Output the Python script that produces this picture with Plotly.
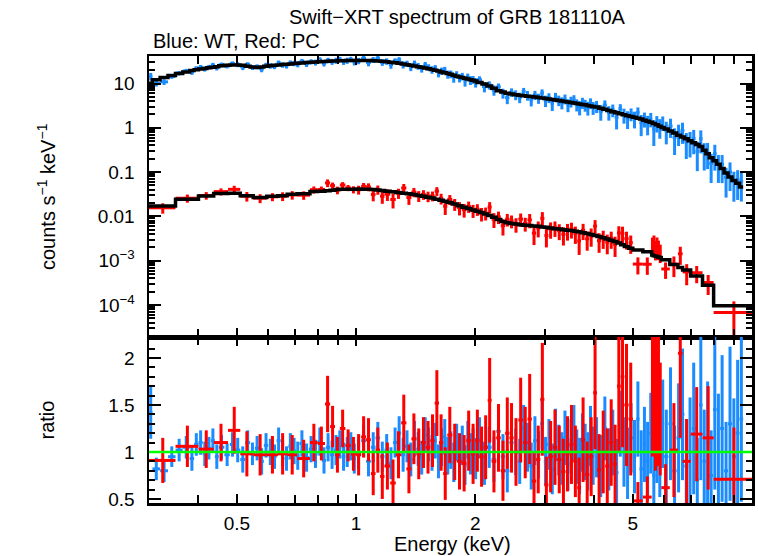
import numpy as np
import plotly.graph_objects as go

# ---------------- data ----------------
# Blue: WT mode.  bin edges (keV), model (counts/s/keV), data/model ratio, ratio error
wt_edges = [0.300, 0.306, 0.320, 0.335, 0.350, 0.365, 0.380, 0.390, 0.400, 0.410, 0.420, 0.430, 0.440,
            0.450, 0.465, 0.480, 0.495, 0.510, 0.525, 0.540, 0.555, 0.570, 0.585, 0.600, 0.615, 0.630,
            0.645, 0.660, 0.675, 0.690, 0.705, 0.720, 0.740, 0.760, 0.780, 0.800, 0.820, 0.840, 0.860,
            0.880, 0.900, 0.920, 0.940, 0.960, 0.980,
            1.00, 1.03, 1.06, 1.09, 1.12, 1.15, 1.18, 1.21, 1.24, 1.27, 1.30, 1.33, 1.36, 1.39, 1.42,
            1.45, 1.48, 1.51, 1.54, 1.57, 1.60, 1.63, 1.66, 1.69, 1.72, 1.75, 1.78, 1.81, 1.84, 1.87,
            1.90, 1.93, 1.96, 1.99,
            2.02, 2.08, 2.14, 2.20, 2.26, 2.32, 2.38, 2.44, 2.50, 2.56, 2.62, 2.68, 2.74, 2.80, 2.86,
            2.92, 2.98, 3.04, 3.10, 3.16, 3.22, 3.28, 3.34, 3.40, 3.46, 3.52, 3.58, 3.64, 3.70, 3.76,
            3.82, 3.88, 3.94,
            4.00, 4.10, 4.20, 4.30, 4.40, 4.50, 4.60, 4.70, 4.80, 4.90, 5.00, 5.10, 5.20, 5.30, 5.40,
            5.50, 5.60, 5.70, 5.80, 5.90,
            6.00, 6.15, 6.30, 6.45, 6.60, 6.75, 6.90, 7.05, 7.20, 7.35, 7.50, 7.65, 7.80, 7.97, 8.14,
            8.31, 8.50, 8.70, 8.90, 9.10, 9.30, 9.50]
wt_model = [10.2, 12.2, 13.6, 15.2, 16.8, 18.3, 19.6, 20.4, 21.2, 21.9, 22.7, 23.4, 24.0,
            25.2, 25.7, 26.1, 26.2, 25.7, 24.6, 23.5, 23.1, 23.6, 24.4, 25.1, 25.7, 26.2, 26.7, 27.2,
            27.7, 28.2, 28.6, 29.2, 29.8, 30.2, 30.6, 31.0, 31.4, 31.8, 32.1, 32.4, 32.6, 32.8, 33.0,
            33.1, 33.2,
            33.2, 33.1, 33.0, 32.8, 32.3, 31.7, 31.1, 30.3, 29.4, 28.5, 27.6, 26.6, 25.7, 24.8, 24.0,
            23.2, 22.4, 21.6, 20.8, 19.9, 19.1, 18.3, 17.6, 16.9, 16.1, 15.3, 14.6, 14.1, 13.6, 13.1,
            12.6, 12.2, 11.8, 11.4,
            10.6, 9.7, 8.8, 7.8, 6.9, 6.4, 6.0, 5.8, 5.6, 5.45, 5.3, 5.18, 5.06, 4.94, 4.82, 4.7,
            4.58, 4.46, 4.34, 4.22, 4.12, 4.02, 3.92, 3.82, 3.72, 3.63, 3.54, 3.46, 3.38, 3.30, 3.20,
            3.10, 3.01,
            2.95, 2.78, 2.61, 2.46, 2.31, 2.19, 2.07, 1.97, 1.88, 1.80, 1.73, 1.65, 1.58, 1.49, 1.41,
            1.33, 1.25, 1.17, 1.09, 1.02,
            0.94, 0.845, 0.76, 0.68, 0.62, 0.565, 0.51, 0.46, 0.42, 0.38, 0.31, 0.26, 0.21, 0.18,
            0.15, 0.12, 0.095, 0.078, 0.065, 0.056, 0.046]
wt_ratio = [1.42, 0.82, 0.80, 0.95, 1.02, 1.05, 0.93, 1.08, 1.10, 0.98, 1.04, 1.12, 0.95,
            1.05, 0.97, 1.08, 1.02, 0.92, 1.10, 0.98, 1.04, 0.90, 1.07, 1.00, 0.95, 1.12, 0.99, 0.93,
            1.06, 1.01, 0.96, 1.09, 0.94, 1.03, 0.98, 1.11, 0.91, 1.05, 0.97, 1.02, 1.08, 0.95, 1.00,
            1.06, 0.93,
            0.98, 1.12, 0.90, 1.05, 1.15, 0.95, 1.02, 0.88, 1.10, 1.20, 0.97, 1.06, 0.92, 1.14, 1.03,
            0.94, 1.18, 1.08, 0.99, 1.12, 0.90, 1.05, 1.16, 0.96, 1.02, 0.89, 1.10, 0.95, 1.07, 0.86,
            1.13, 0.98, 1.04, 0.93,
            1.15, 0.88, 1.05, 0.92, 1.22, 0.95, 0.80, 1.10, 1.00, 0.90, 1.25, 1.05, 0.85, 1.12, 0.97,
            1.30, 0.90, 1.08, 0.82, 1.18, 1.02, 0.93, 1.15, 0.87, 1.06, 1.20, 0.95, 0.85, 1.10, 1.00,
            0.90, 1.17, 0.96,
            1.05, 0.85, 1.25, 0.92, 1.10, 0.78, 1.30, 1.00, 0.88, 1.15, 0.95, 1.35, 0.82, 1.08, 0.90,
            1.20, 0.75, 1.12, 0.98, 1.30,
            0.95, 1.30, 0.80, 1.15, 1.40, 0.85, 1.00, 1.25, 0.70, 1.50, 0.90, 1.10, 0.75, 1.45, 1.00,
            1.25, 0.80, 1.30, 0.95, 1.20, 1.35]
wt_ratio_err = [0.28, 0.12, 0.12, 0.11, 0.12, 0.12, 0.13, 0.12, 0.13, 0.13, 0.12, 0.13, 0.13,
                0.13, 0.12, 0.13, 0.13, 0.14, 0.13, 0.12, 0.13, 0.14, 0.13, 0.14, 0.13, 0.14, 0.14,
                0.13, 0.14, 0.14, 0.15, 0.14, 0.15, 0.14, 0.15, 0.15, 0.14, 0.15, 0.15, 0.16, 0.15,
                0.15, 0.16, 0.15, 0.16,
                0.16, 0.17, 0.16, 0.16, 0.17, 0.16, 0.17, 0.17, 0.16, 0.18, 0.18, 0.17, 0.18, 0.19,
                0.18, 0.18, 0.19, 0.18, 0.19, 0.19, 0.18, 0.20, 0.19, 0.20, 0.20, 0.21, 0.20, 0.20,
                0.21, 0.21, 0.20, 0.22, 0.21, 0.22,
                0.22, 0.23, 0.22, 0.24, 0.23, 0.24, 0.23, 0.24, 0.25, 0.24, 0.25, 0.26, 0.25, 0.26,
                0.25, 0.27, 0.26, 0.27, 0.27, 0.28, 0.27, 0.28, 0.29, 0.28, 0.29, 0.30, 0.29, 0.30,
                0.31, 0.30, 0.31, 0.32, 0.31,
                0.32, 0.33, 0.34, 0.33, 0.35, 0.36, 0.35, 0.37, 0.38, 0.37, 0.39, 0.40, 0.41, 0.40,
                0.42, 0.43, 0.44, 0.45, 0.46, 0.47,
                0.50, 0.60, 0.48, 0.58, 0.70, 0.50, 0.58, 0.70, 0.45, 0.80, 0.55, 0.65, 0.48, 0.85,
                0.62, 0.78, 0.52, 0.82, 0.62, 0.78, 0.88]

# Red: PC mode
pc_edges = [0.30, 0.35, 0.40, 0.437, 0.475, 0.51, 0.55, 0.595, 0.635, 0.67, 0.71, 0.765, 0.80,
            0.835, 0.86, 0.885, 0.91, 0.94, 0.97,
            1.00, 1.03, 1.06, 1.09, 1.12, 1.15, 1.18, 1.22, 1.26, 1.30, 1.34, 1.38, 1.42, 1.46,
            1.50, 1.54, 1.58, 1.62, 1.66, 1.70, 1.75, 1.80, 1.85, 1.90, 1.95,
            2.00, 2.05, 2.10, 2.15, 2.20, 2.26, 2.32, 2.38, 2.44, 2.50, 2.57, 2.64, 2.71, 2.78,
            2.85, 2.92, 2.99, 3.06, 3.14, 3.22, 3.30, 3.38, 3.46, 3.54, 3.62, 3.70, 3.79, 3.88,
            3.97, 4.06, 4.16, 4.26, 4.36, 4.46, 4.56, 4.66, 4.76, 4.88,
            5.00, 5.30, 5.58, 5.63, 5.68, 5.73, 5.78, 5.83, 5.90, 6.20, 6.50, 6.68, 7.00, 7.50,
            8.00, 10.0]
pc_model = [0.0172, 0.0243, 0.0288, 0.0330, 0.0332, 0.0292, 0.0266, 0.0286, 0.0292, 0.0315,
            0.0325, 0.0365, 0.0372, 0.0378, 0.0390, 0.0405, 0.0410, 0.0412, 0.0413,
            0.0414, 0.0412, 0.0410, 0.0405, 0.0395, 0.0385, 0.0372, 0.0360, 0.0345, 0.0335,
            0.0325, 0.0312, 0.0298, 0.0285, 0.0272, 0.0260, 0.0245, 0.0232, 0.0220, 0.0205,
            0.0190, 0.0175, 0.0162, 0.0150, 0.0140,
            0.0130, 0.0122, 0.0114, 0.0105, 0.0096, 0.0085, 0.0077, 0.0072, 0.0069, 0.0067,
            0.0065, 0.0063, 0.0062, 0.0061, 0.0060, 0.0058, 0.0057, 0.0055, 0.0053, 0.0052,
            0.0050, 0.0049, 0.0048, 0.0046, 0.0045, 0.0043, 0.0041, 0.0039, 0.0037, 0.0035,
            0.0033, 0.0031, 0.0029, 0.0027, 0.0025, 0.0023, 0.0021, 0.0019,
            0.00175, 0.0016, 0.00135, 0.0013, 0.00127, 0.00124, 0.00121, 0.00118, 0.00105,
            0.00082, 0.00070, 0.00062, 0.00045, 0.00028, 0.000096]
pc_ratio = [0.91, 1.06, 1.03, 1.10, 1.23, 0.98, 0.97, 0.97, 0.98, 0.97, 0.93, 1.10, 1.09, 1.51,
            1.27, 0.97, 1.25, 1.07, 0.98,
            0.97, 1.16, 1.13, 0.77, 1.02, 0.74, 0.85, 0.67, 0.97, 1.31, 0.82, 1.14, 0.98, 1.10,
            1.05, 1.12, 1.52, 1.10, 0.77, 1.18, 1.00, 0.90, 0.88, 1.12, 0.98,
            1.12, 0.95, 1.05, 1.55, 0.90, 1.15, 0.80, 1.20, 1.15, 1.00, 1.34, 1.10, 1.35, 0.69,
            0.92, 1.56, 0.65, 0.95, 1.05, 0.92, 0.79, 0.98, 1.08, 0.90, 0.62, 1.13, 0.76, 0.95,
            1.63, 0.81, 1.00, 0.85, 1.10, 0.87, 1.70, 1.80, 1.50, 1.35,
            0.48, 0.52, 1.70, 2.00, 1.50, 1.90, 1.60, 1.35, 0.62, 1.02, 2.05, 0.90, 1.19, 1.15, 0.71]
pc_ratio_err = [0.24, 0.22, 0.20, 0.20, 0.25, 0.24, 0.22, 0.20, 0.22, 0.21, 0.20, 0.20, 0.18,
                0.30, 0.22, 0.19, 0.20, 0.17, 0.18,
                0.22, 0.22, 0.23, 0.23, 0.24, 0.24, 0.25, 0.25, 0.25, 0.30, 0.26, 0.27, 0.27, 0.27,
                0.28, 0.28, 0.35, 0.30, 0.28, 0.30, 0.30, 0.30, 0.30, 0.32, 0.32,
                0.33, 0.32, 0.34, 0.45, 0.33, 0.36, 0.32, 0.38, 0.37, 0.36, 0.45, 0.38, 0.48, 0.32,
                0.36, 0.60, 0.30, 0.38, 0.40, 0.36, 0.35, 0.40, 0.42, 0.38, 0.32, 0.45, 0.35, 0.42,
                0.60, 0.38, 0.44, 0.40, 0.46, 0.42, 0.70, 0.75, 0.65, 0.60,
                0.20, 0.22, 0.75, 0.85, 0.70, 0.80, 0.75, 0.60, 0.25, 0.50, 0.90, 0.45, 0.50, 0.55, 0.55]

ratio_ref = 1.0

x_tickvals = [0.5, 1, 2, 5]
x_ticktext = ["0.5", "1", "2", "5"]
x_minor = [0.3, 0.4, 0.6, 0.7, 0.8, 0.9, 3, 4, 6, 7, 8, 9]
y_tickvals = [1e-4, 1e-3, 0.01, 0.1, 1, 10]
y_ticktext = ["10<sup>\u22124</sup>", "10<sup>\u22123</sup>", "0.01", "0.1", "1", "10"]
r_tickvals = [0.5, 1, 1.5, 2]
r_ticktext = ["0.5", "1", "1.5", "2"]

# ---------------- build ----------------
BLUE = "#1a8cff"
RED = "#ff0000"
GREEN = "#00ff00"
FONT = "Liberation Sans, Arial, sans-serif"


def prep(edges, model, ratio, rerr):
    e = np.array(edges, float)
    m = np.array(model, float)
    r = np.array(ratio, float)
    re = np.array(rerr, float)
    assert len(e) == len(m) + 1 == len(r) + 1 == len(re) + 1
    lo, hi = e[:-1], e[1:]
    return dict(xc=(lo + hi) / 2, xe=(hi - lo) / 2, y=r * m, ye=re * m,
                r=r, re=re, step_x=e, step_y=np.append(m, m[-1]))


wt = prep(wt_edges, wt_model, wt_ratio, wt_ratio_err)
pc = prep(pc_edges, pc_model, pc_ratio, pc_ratio_err)

fig = go.Figure()


def data_trace(d, color, yk, rk, xa, ya):
    return go.Scatter(x=d["xc"], y=d[yk], mode="markers", marker=dict(size=0.1, color=color, opacity=0),
                      error_x=dict(type="data", array=d["xe"], symmetric=True, color=color, thickness=3, width=0),
                      error_y=dict(type="data", array=d[rk], symmetric=True, color=color, thickness=3, width=0),
                      xaxis=xa, yaxis=ya, showlegend=False, hoverinfo="skip")


fig.add_trace(data_trace(wt, BLUE, "y", "ye", "x", "y"))
fig.add_trace(data_trace(pc, RED, "y", "ye", "x", "y"))
for d in (wt, pc):
    fig.add_trace(go.Scatter(x=d["step_x"], y=d["step_y"], mode="lines",
                             line=dict(color="black", width=3.5, shape="hv"),
                             xaxis="x", yaxis="y", showlegend=False, hoverinfo="skip"))
fig.add_trace(data_trace(wt, BLUE, "r", "re", "x2", "y2"))
fig.add_trace(data_trace(pc, RED, "r", "re", "x2", "y2"))

split = 166 / 447

axis_common = dict(showline=True, linecolor="black", linewidth=2.5, mirror="allticks",
                   ticks="inside", tickcolor="black", tickwidth=2, showgrid=False, zeroline=False,
                   tickfont=dict(family=FONT, size=19, color="black"))

xr = [np.log10(0.3), 1.0]
fig.update_layout(
    width=758, height=556,
    margin=dict(l=149, r=3, t=56, b=53),
    paper_bgcolor="white", plot_bgcolor="white",
    font=dict(family=FONT, color="black"),
    xaxis=dict(type="log", range=xr, anchor="y", domain=[0, 1], matches="x2",
               tickmode="array", tickvals=x_tickvals, ticktext=x_ticktext, showticklabels=False,
               ticklen=9,
               minor=dict(tickmode="array", tickvals=x_minor, ticks="inside", ticklen=8,
                          tickwidth=2, tickcolor="black", showgrid=False),
               **axis_common),
    xaxis2=dict(type="log", range=xr, anchor="y2", domain=[0, 1],
                tickmode="array", tickvals=x_tickvals, ticktext=x_ticktext, ticklen=9,
                ticklabelstandoff=2,
                minor=dict(tickmode="array", tickvals=x_minor, ticks="inside", ticklen=8,
                           tickwidth=2, tickcolor="black", showgrid=False),
                **axis_common),
    yaxis=dict(type="log", range=[-4.722, 1.621], anchor="x", domain=[split, 1],
               tickmode="array", tickvals=y_tickvals, ticktext=y_ticktext, ticklen=12,
               ticklabelstandoff=8,
               minor=dict(tickmode="array",
                          tickvals=[k * 10.0 ** p for p in range(-5, 2) for k in range(2, 10)],
                          ticks="inside", ticklen=6, tickwidth=2, tickcolor="black", showgrid=False),
               **axis_common),
    yaxis2=dict(range=[0.457, 2.223], anchor="x2", domain=[0, split],
                tickmode="array", tickvals=r_tickvals, ticktext=r_ticktext, ticklen=12,
                ticklabelstandoff=8,
                minor=dict(tickmode="array",
                           tickvals=[round(0.4 + 0.1 * i, 1) for i in range(20)],
                           ticks="inside", ticklen=6, tickwidth=2, tickcolor="black", showgrid=False),
                **axis_common),
    shapes=[dict(type="line", xref="x2 domain", yref="y2", x0=0, x1=1, y0=ratio_ref, y1=ratio_ref,
                 line=dict(color=GREEN, width=2.5), layer="above")],
)

def ann(text, px, py, size=20, anchor="center", angle=0):
    fig.add_annotation(text=text, xref="paper", yref="paper",
                       x=(px - 149) / 606, y=(503 - py) / 447,
                       xanchor=anchor, yanchor="middle", showarrow=False, textangle=angle,
                       font=dict(family=FONT, size=size, color="black"))

ann("Swift\u2212XRT spectrum of GRB 181110A", 459, 17)
ann("Blue: WT, Red: PC", 151, 41, anchor="left")
ann("counts s<sup>\u22121</sup> keV<sup>\u22121</sup>", 46, 196.5, angle=-90)
ann("ratio", 46, 420, angle=-90)
ann("Energy (keV)", 454, 544)

fig.write_html("out.html", config={"displayModeBar": False, "staticPlot": True},
               post_script="document.body.style.margin='0';document.body.style.padding='0';"
                           "document.documentElement.style.overflow='hidden';")
